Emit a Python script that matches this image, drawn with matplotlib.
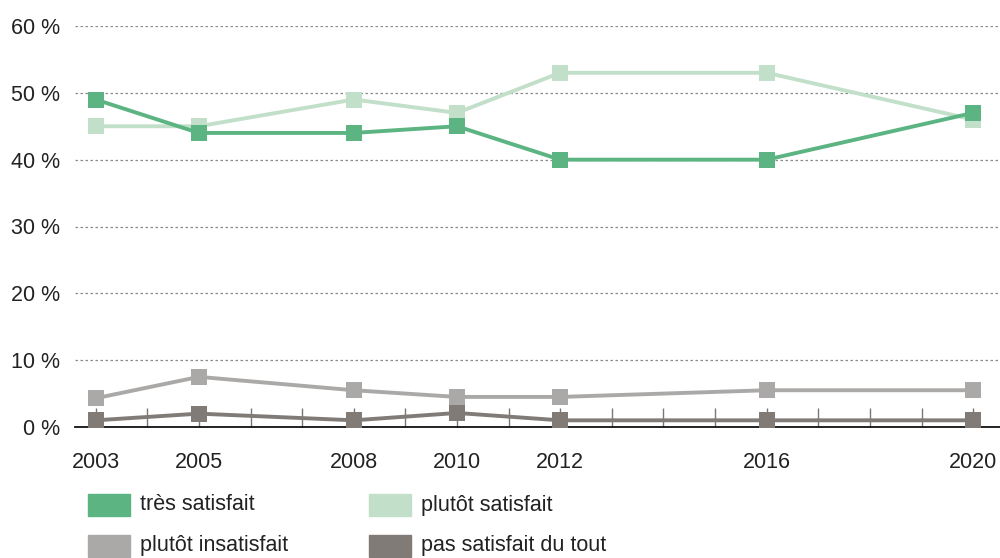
import matplotlib
matplotlib.use("Agg")
import matplotlib.pyplot as plt
from matplotlib.patches import Rectangle
from matplotlib.ticker import MultipleLocator, FuncFormatter

years = [2003, 2005, 2008, 2010, 2012, 2016, 2020]
year_labels = ["2003", "2005", "2008", "2010", "2012", "2016", "2020"]
tres_satisfait = [49, 44, 44, 45, 40, 40, 47]
plutot_satisfait = [45, 45, 49, 47, 53, 53, 46]
plutot_insatisfait = [4.3, 7.5, 5.5, 4.5, 4.5, 5.5, 5.5]
pas_satisfait = [1, 2, 1, 2.1, 1, 1, 1]

series_names = ["très satisfait", "plutôt satisfait", "plutôt insatisfait", "pas satisfait du tout"]
colors = ["#5bb482", "#c2e0c9", "#aaa9a7", "#807b77"]

plt.rcParams['font.family'] = ['Liberation Sans', 'DejaVu Sans']
FS = 15.5

fig = plt.figure(figsize=(10, 5.58), dpi=100)
ax = fig.add_axes([0.075, 1 - 427/558, 0.925, (427 - 26)/558])

draw_order = [(3, pas_satisfait), (2, plutot_insatisfait), (1, plutot_satisfait), (0, tres_satisfait)]
for idx, vals in draw_order:
    ax.plot(years, vals, color=colors[idx], lw=2.8, marker="s", ms=11.5,
            markeredgewidth=0, clip_on=False, zorder=3 + (3 - idx) * 0.1)

ax.set_xlim(2002.6, 2020.52)
ax.set_ylim(0, 60)
ax.yaxis.set_major_locator(MultipleLocator(10))
ax.yaxis.set_major_formatter(FuncFormatter(lambda v, p: f"{int(v)} %"))
ax.grid(axis="y", color="#8a8a8a", linestyle=(0, (2, 2)), lw=0.9)
ax.set_axisbelow(True)

ax.set_xticks(years)
ax.set_xticklabels(year_labels)
ax.set_xticks(range(2003, 2021), minor=True)
ax.tick_params(axis="x", which="both", direction="in", length=14, width=1, color="#777777",
               labelsize=FS, pad=18, labelcolor="#222222")
ax.tick_params(axis="y", length=0, labelsize=FS, pad=11, labelcolor="#222222")

for s in ["top", "right", "left"]:
    ax.spines[s].set_visible(False)
ax.spines["bottom"].set_color("#111111")
ax.spines["bottom"].set_linewidth(1.3)

# legend
W, H = 1000, 558
leg_pos = [(88, 505), (369, 505), (88, 546), (369, 546)]
for i, (x, y) in enumerate(leg_pos):
    fig.patches.append(Rectangle((x / W, 1 - (y + 11) / H), 42 / W, 22 / H,
                                 transform=fig.transFigure, color=colors[i]))
    fig.text((x + 52) / W, 1 - y / H, series_names[i], fontsize=FS,
             va="center", ha="left", color="#222222")

fig.savefig("out.png", dpi=100)
